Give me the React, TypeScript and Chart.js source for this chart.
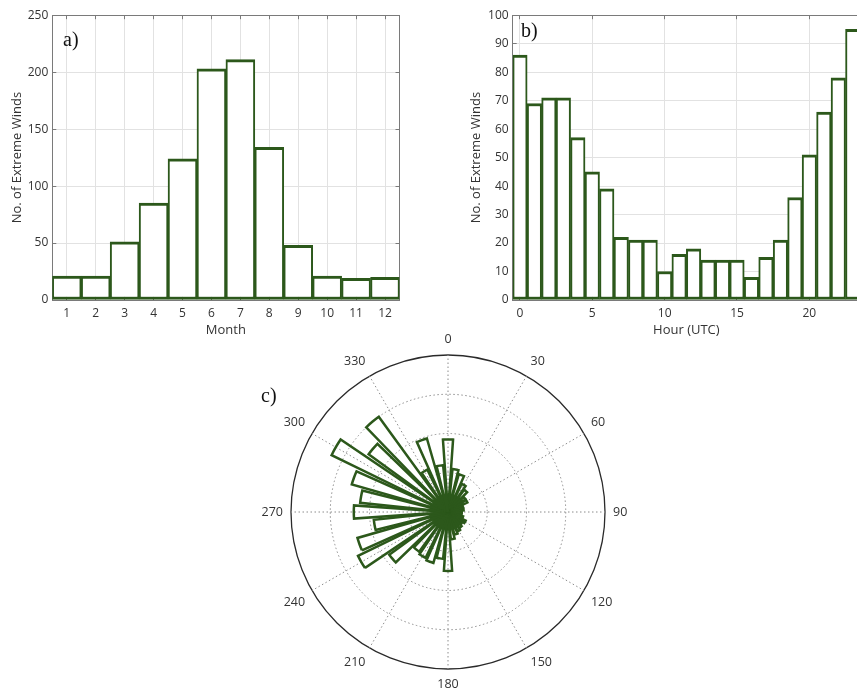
import React, { useEffect, useRef } from 'react';
import { Chart, registerables } from 'chart.js';

Chart.register(...registerables);

// ---------------- data ----------------
const monthLabels = [1, 2, 3, 4, 5, 6, 7, 8, 9, 10, 11, 12];
const monthCounts = [21, 21, 51, 85, 124, 203, 211, 134, 48, 21, 19, 20];
const monthYTicks = [0, 50, 100, 150, 200, 250];

const hourLabels = [0, 1, 2, 3, 4, 5, 6, 7, 8, 9, 10, 11, 12, 13, 14, 15, 16, 17, 18, 19, 20, 21, 22, 23];
const hourCounts = [86, 69, 71, 71, 57, 45, 39, 22, 21, 21, 10, 16, 18, 14, 14, 14, 8, 15, 21, 36, 51, 66, 78, 95];
const hourXTicks = [0, 5, 10, 15, 20];
const hourYTicks = [0, 10, 20, 30, 40, 50, 60, 70, 80, 90, 100];

const roseDirections = [0, 10, 20, 30, 40, 50, 60, 70, 80, 90, 100, 110, 120, 130, 140, 150, 160, 170,
  180, 190, 200, 210, 220, 230, 240, 250, 260, 270, 280, 290, 300, 310, 320, 330, 340, 350];
const roseCounts = [37, 22, 20, 16, 14, 11, 11, 8, 8, 7, 7, 8, 10, 9, 10, 11, 12, 14,
  30, 24, 27, 26, 25, 37, 51, 48, 38, 48, 45, 51, 66, 50, 60, 24, 39, 24];
const roseAngleTicks = [0, 30, 60, 90, 120, 150, 180, 210, 240, 270, 300, 330];
const roseRingTicks = [0, 20, 40, 60, 80];

// ---------------- styles ----------------
const GREEN = '#2c581b';
const AXIS = '#7a7a7a';
const GRID = '#e2e2e2';
const TEXT = '#333333';
const FONT = "'Open Sans', 'DejaVu Sans', sans-serif";
const SERIF = "'Liberation Serif', 'DejaVu Serif', serif";

const ROSE_CX = 448.3;
const ROSE_CY = 511.7;
const ROSE_R = 157.5;
const WEDGE = 8; // degrees drawn per bin

function setTicks(vals: number[]) {
  return (s: any) => {
    s.ticks = vals.map((v) => ({ value: v }));
  };
}

function makeBarConfig(o: any) {
  const tickFont = { family: FONT, size: 12 };
  const titleFont = { family: FONT, size: 13 };
  const yMax = o.yTicks[o.yTicks.length - 1];
  return {
    type: 'bar',
    data: {
      datasets: [
        {
          data: o.xs.map((x: number, i: number) => ({ x, y: o.ys[i] })),
          backgroundColor: '#ffffff',
          borderColor: GREEN,
          borderWidth: { top: 3, bottom: 3, left: 2, right: 2 },
          borderSkipped: false,
          barPercentage: 1,
          categoryPercentage: 1,
        },
      ],
    },
    options: {
      responsive: false,
      maintainAspectRatio: false,
      animation: false,
      events: [],
      layout: { padding: { top: o.padTop, right: 2, left: 0, bottom: 0 } },
      plugins: { legend: { display: false }, tooltip: { enabled: false } },
      scales: {
        x: {
          type: 'linear',
          position: 'bottom',
          min: o.xMin,
          max: o.xMax,
          offset: false,
          afterBuildTicks: setTicks(o.xTicks),
          ticks: { font: tickFont, color: TEXT, padding: 10, maxRotation: 0, autoSkip: false },
          grid: { offset: false, color: GRID, tickColor: AXIS, tickLength: -4 },
          border: { color: AXIS, width: 1 },
          title: { display: true, text: o.xTitle, color: TEXT, font: titleFont, padding: { top: 0, bottom: 2 } },
          afterFit: (s: any) => {
            s.height = 40;
          },
        },
        x2: {
          type: 'linear',
          position: 'top',
          min: o.xMin,
          max: o.xMax,
          offset: false,
          afterBuildTicks: setTicks(o.xTicks),
          ticks: { display: false },
          grid: { offset: false, drawOnChartArea: false, tickColor: AXIS, tickLength: -4 },
          border: { color: AXIS, width: 1 },
          afterFit: (s: any) => {
            s.height = 0;
          },
        },
        y: {
          type: 'linear',
          position: 'left',
          min: 0,
          max: yMax,
          afterBuildTicks: setTicks(o.yTicks),
          ticks: { font: tickFont, color: TEXT, padding: 8 },
          grid: { color: GRID, tickColor: AXIS, tickLength: -4 },
          border: { color: AXIS, width: 1 },
          title: {
            display: true,
            text: 'No. of Extreme Winds',
            color: TEXT,
            font: titleFont,
            padding: { top: o.yTitlePad, bottom: 0 },
          },
          afterFit: (s: any) => {
            s.width = o.yAxisWidth;
          },
        },
        y2: {
          type: 'linear',
          position: 'right',
          min: 0,
          max: yMax,
          afterBuildTicks: setTicks(o.yTicks),
          ticks: { display: false },
          grid: { drawOnChartArea: false, tickColor: AXIS, tickLength: -4 },
          border: { color: AXIS, width: 1 },
          afterFit: (s: any) => {
            s.width = 0;
          },
        },
      },
    },
  };
}

function makeRoseConfig() {
  const binWidth = roseDirections[1] - roseDirections[0];
  const half = binWidth / 2;
  const gap = binWidth - WEDGE;
  // angle-line slots every half bin, starting half a bin before north
  const slots = Math.round(360 / half);
  const labels: string[] = [];
  for (let i = 0; i < slots; i++) {
    const deg = (((i - 1) * half) % 360 + 360) % 360;
    labels.push(roseAngleTicks.includes(deg) ? String(deg) : '');
  }
  const values: number[] = [0];
  const angles: number[] = [gap / 2];
  roseCounts.forEach((c, k) => {
    values.push(c);
    angles.push(WEDGE);
    values.push(0);
    angles.push(k === roseCounts.length - 1 ? gap / 2 : gap);
  });
  const ringMax = roseRingTicks[roseRingTicks.length - 1];
  return {
    type: 'polarArea',
    data: {
      labels,
      datasets: [
        {
          data: values,
          backgroundColor: 'rgba(0,0,0,0)',
          borderColor: GREEN,
          borderWidth: (ctx: any) => (ctx.dataIndex % 2 === 1 ? 2.5 : 0),
          borderJoinStyle: 'miter',
          angle: (ctx: any) => angles[ctx.dataIndex],
        },
      ],
    },
    options: {
      responsive: false,
      maintainAspectRatio: false,
      animation: false,
      events: [],
      layout: { padding: 0 },
      plugins: { legend: { display: false }, tooltip: { enabled: false } },
      scales: {
        r: {
          type: 'radialLinear',
          min: 0,
          max: ringMax,
          startAngle: -half,
          afterBuildTicks: setTicks(roseRingTicks),
          ticks: { display: false },
          grid: {
            circular: true,
            color: (ctx: any) => (ctx.tick && ctx.tick.value === ringMax ? '#2a2a2a' : '#8c8c8c'),
            lineWidth: (ctx: any) => (ctx.tick && ctx.tick.value === ringMax ? 1.3 : 1),
          },
          border: {
            dash: (ctx: any) => (ctx.tick && ctx.tick.value === ringMax ? [] : [1.5, 2.5]),
          },
          angleLines: {
            display: true,
            color: '#8c8c8c',
            lineWidth: (ctx: any) => (ctx.label ? 1 : 0),
            borderDash: [1.5, 2.5],
          },
          pointLabels: {
            display: true,
            padding: 8,
            color: TEXT,
            font: { family: FONT, size: 12.5 },
          },
        },
      },
    },
  };
}

export default function App() {
  const aRef = useRef<HTMLCanvasElement>(null);
  const bRef = useRef<HTMLCanvasElement>(null);
  const cRef = useRef<HTMLCanvasElement>(null);

  useEffect(() => {
    Chart.defaults.font.family = FONT;
    const charts: any[] = [];
    charts.push(
      new Chart(
        aRef.current as HTMLCanvasElement,
        makeBarConfig({
          xs: monthLabels,
          ys: monthCounts,
          xMin: 0.5,
          xMax: 12.5,
          xTicks: monthLabels,
          yTicks: monthYTicks,
          xTitle: 'Month',
          padTop: 11.7,
          yAxisWidth: 52.3,
          yTitlePad: 9.7,
        }) as any
      )
    );
    charts.push(
      new Chart(
        bRef.current as HTMLCanvasElement,
        makeBarConfig({
          xs: hourLabels,
          ys: hourCounts,
          xMin: -0.5,
          xMax: 23.5,
          xTicks: hourXTicks,
          yTicks: hourYTicks,
          xTitle: 'Hour (UTC)',
          padTop: 13.3,
          yAxisWidth: 52.7,
          yTitlePad: 8.9,
        }) as any
      )
    );

    const rc = cRef.current as HTMLCanvasElement;
    let w = 380;
    let h = 361;
    rc.width = w;
    rc.height = h;
    let rose: any = new Chart(rc, makeRoseConfig() as any);
    for (let k = 0; k < 4; k++) {
      const d = ROSE_R - rose.scales.r.drawingArea;
      if (Math.abs(d) < 0.5) break;
      rose.destroy();
      w = Math.round(w + 2 * d);
      h = Math.round(h + 2 * d);
      rc.width = w;
      rc.height = h;
      rose = new Chart(rc, makeRoseConfig() as any);
    }
    const sc = rose.scales.r;
    rc.style.left = `${ROSE_CX - sc.xCenter}px`;
    rc.style.top = `${ROSE_CY - sc.yCenter}px`;
    charts.push(rose);

    return () => {
      charts.forEach((c) => c.destroy());
    };
  }, []);

  const panelLabel = (text: string, left: number, top: number) => (
    <span
      style={{
        position: 'absolute',
        left,
        top,
        fontFamily: SERIF,
        fontSize: 20,
        lineHeight: '20px',
        color: '#111',
        whiteSpace: 'nowrap',
      }}
    >
      {text}
    </span>
  );

  return (
    <div
      style={{
        position: 'absolute',
        left: 0,
        top: 0,
        width: 857,
        height: 694,
        overflow: 'hidden',
        background: '#ffffff',
      }}
    >
      <canvas ref={aRef} width={402} height={340} style={{ position: 'absolute', left: 0, top: 0 }} />
      <canvas ref={bRef} width={402} height={340} style={{ position: 'absolute', left: 460, top: 0 }} />
      <canvas ref={cRef} width={380} height={361} style={{ position: 'absolute', left: 255, top: 331 }} />
      {panelLabel('a)', 63, 29)}
      {panelLabel('b)', 521, 20)}
      {panelLabel('c)', 261, 385)}
    </div>
  );
}
